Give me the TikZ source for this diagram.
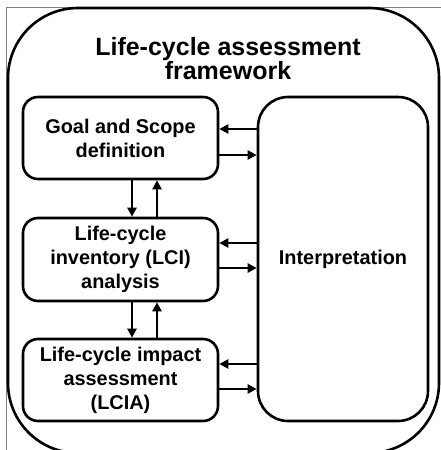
\documentclass[tikz,border=0pt]{standalone}
\usepackage{fontspec}
\setmainfont{Liberation Sans}
\usetikzlibrary{arrows.meta}
\begin{document}
\begin{tikzpicture}[x=1pt, y=-1pt,
        stage/.style={draw, line width=2.6pt, rounded corners=15pt, minimum width=195pt,
            minimum height=82pt, inner sep=0pt, align=center,
            font=\bfseries\fontsize{19.9}{24}\selectfont},
        link/.style={line width=2.6pt, -{Triangle[length=9pt, width=9pt]}}]
            \clip (0, 0) rectangle (441, 450);

            % frame of the picture
            \draw [gray, line width=0.8pt] (6, 450) -- (6, 7) -- (441, 7);
            \draw [line width=2.6pt, rounded corners=70pt] (8, 8) rectangle (439, 453);
            \node (title) at (228, 58.4) [align=center, font=\bfseries\fontsize{25}{24.5}\selectfont]
                {Life-cycle assessment\\framework};

            % stages
            \node (goal) at (120.5, 138) [stage] {Goal and Scope\\definition};
            \node (lci) at (120.5, 259.5) [stage, minimum height=83pt] {Life-cycle\\inventory (LCI)\\analysis};
            \node (lcia) at (120.5, 380) [stage] {Life-cycle impact\\assessment\\(LCIA)};
            \node (interp) at (343, 259) [stage, rounded corners=30pt, minimum width=170pt,
                minimum height=324pt] {Interpretation};

            % down and up between stages
            \foreach \upper/\lower in {goal/lci, lci/lcia}{
                \draw [link] (\upper.south -| 132, 0) -- (\lower.north -| 132, 0);
                \draw [link] (\lower.north -| 157, 0) -- (\upper.south -| 157, 0);
            }

            % to and from interpretation
            \foreach \stage/\yin/\yout in {goal/129/155, lci/243/268, lcia/364/389}{
                \draw [link] (interp.west |- 0, \yin) -- (\stage.east |- 0, \yin);
                \draw [link] (\stage.east |- 0, \yout) -- (interp.west |- 0, \yout);
            }
        \end{tikzpicture}
\end{document}
